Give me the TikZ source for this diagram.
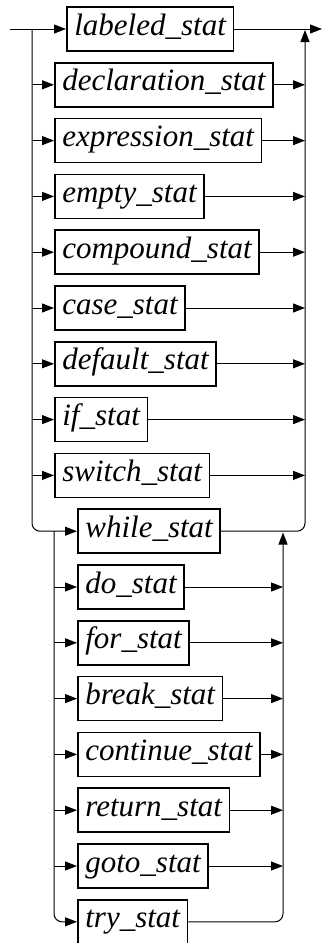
\documentclass[tikz,border=0pt]{standalone}
\usepackage{fontspec}
\setmainfont{Liberation Serif}
\usetikzlibrary{arrows.meta,positioning}

\tikzset{
  stat/.style={draw,line width=1.7pt,anchor=west,inner xsep=7.5pt,inner ysep=8pt,
    text height=20pt,text depth=8pt,font=\fontsize{31}{31}\selectfont\itshape},
  flow/.style={line width=1pt,-{Triangle[length=12pt,width=9pt]}},
  rail/.style={rounded corners=8pt},
}

\begin{document}
\begin{tikzpicture}[x=1pt,y=-1pt]
  \useasboundingbox (0,0) rectangle (323,943);
  % entry and exit
  \coordinate (in) at (10,29);
  \coordinate (out) at (322,29);
  \coordinate (ltop) at (32,29);
  \coordinate (rtop) at (305,30);
  \node[stat] (labeled) at (66,29) {labeled\_stat};
  \draw[flow] (in) -- (labeled.west);
  \draw[flow] (labeled.east) -- (out);
  % first group of choices
  \foreach \n [count=\i] in {declaration,expression,empty,compound,case,default,if,switch}{
    \node[stat] (\n) at (54,29+55.8*\i) {\n\_stat};
    \coordinate (l\n) at (32,29+55.8*\i);
    \coordinate (r\n) at (305,29+55.8*\i);
    \draw[flow] (l\n) -- (\n.west);
    \draw[flow] (\n.east) -- (r\n);
  }
  % loop statements
  \node[stat] (while) at (77,531.2) {while\_stat};
  \draw[flow,rail] (ltop) |- (while.west);
  \draw[flow,rail] (while.east) -| (rtop);
  \coordinate (lmid) at (54,531.2);
  \coordinate (rmid) at (283,532.5);
  \foreach \n [count=\i from 10] in {do,for,break,continue,return,goto}{
    \node[stat] (\n) at (77,29+55.8*\i) {\n\_stat};
    \coordinate (l\n) at (54,29+55.8*\i);
    \coordinate (r\n) at (283,29+55.8*\i);
    \draw[flow] (l\n) -- (\n.west);
    \draw[flow] (\n.east) -- (r\n);
  }
  \node[stat] (try) at (77,921.8) {try\_stat};
  \draw[flow,rail] (lmid) |- (try.west);
  \draw[flow,rail] (try.east) -| (rmid);
\end{tikzpicture}
\end{document}
